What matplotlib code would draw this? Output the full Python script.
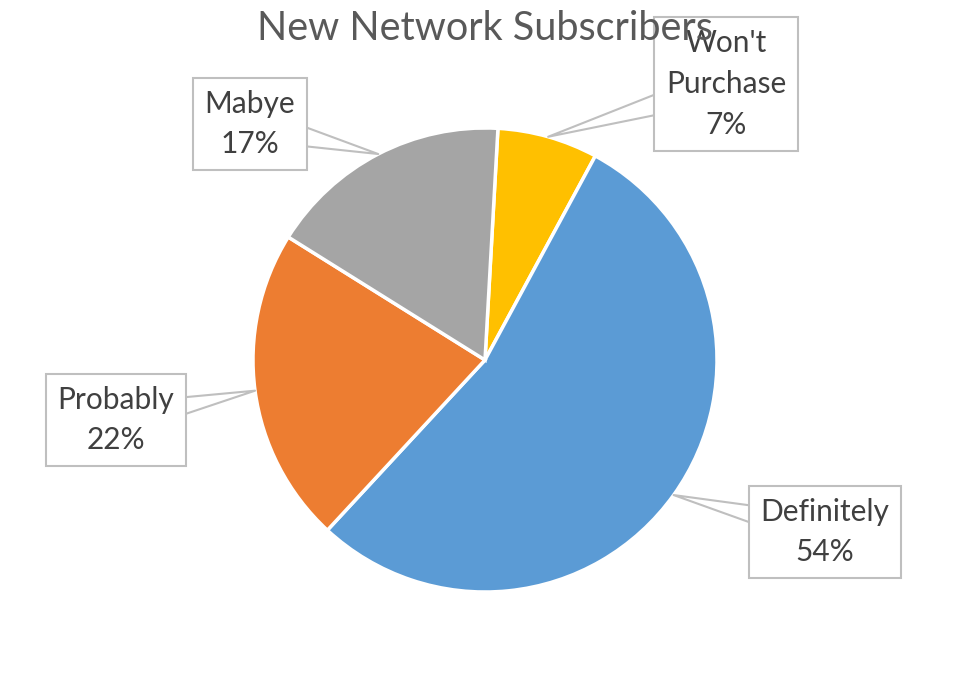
import numpy as np
import matplotlib.pyplot as plt

plt.rcParams['font.family'] = ['Lato', 'DejaVu Sans']

# data
labels = ["Won't\nPurchase", "Definitely", "Probably", "Mabye"]
shares = [7, 54, 22, 17]
colors = ['#FFC000', '#5B9BD5', '#ED7D31', '#A5A5A5']

# label box centres in pixels (x from left, y from top)
box_px = [(726, 84), (825, 532), (116, 420), (250, 124)]

W, H = 960, 682
cx, cy, R = 485, 360, 232

fig = plt.figure(figsize=(W / 100, H / 100), dpi=100)
ax = fig.add_axes([0, 0, 1, 1])

wedges, _ = ax.pie(shares, colors=colors, startangle=86.8, counterclock=False,
                   wedgeprops=dict(edgecolor='white', linewidth=2.5))

ax.set_xlim(-cx / R, (W - cx) / R)
ax.set_ylim(-(H - cy) / R, cy / R)

for w, lab, val, (px, py) in zip(wedges, labels, shares, box_px):
    mid = np.deg2rad((w.theta1 + w.theta2) / 2)
    tip = (w.r * np.cos(mid), w.r * np.sin(mid))
    pos = ((px - cx) / R, (cy - py) / R)
    ann = ax.annotate(f"{lab}\n{val}%", xy=tip, xytext=pos, ha='center', va='center',
                      fontsize=21.5, color='#404040', linespacing=1.55,
                      bbox=dict(boxstyle='square,pad=0.4', fc='white', ec='#BFBFBF', lw=1.5),
                      arrowprops=dict(arrowstyle='wedge,tail_width=1.1', fc='white', ec='#BFBFBF',
                                      lw=1.5, shrinkA=0, shrinkB=0, patchA=None))

fig.text(cx / W, 1 - 28 / H, 'New Network Subscribers', ha='center', va='center',
         fontsize=28.5, color='#595959')

fig.savefig('out.png', dpi=100)
